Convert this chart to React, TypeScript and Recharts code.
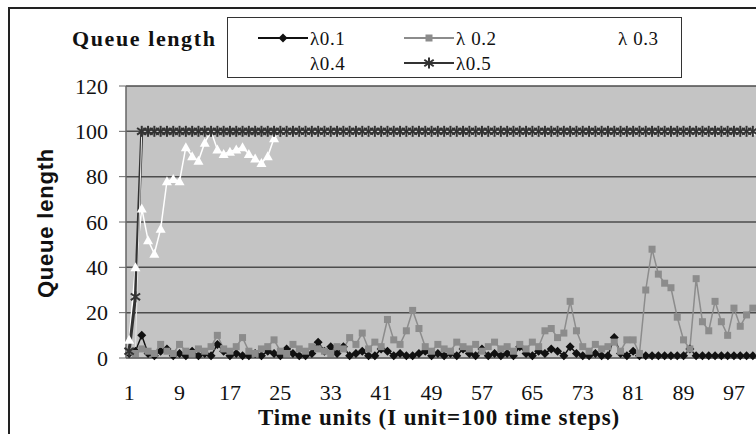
import { LineChart, Line, XAxis, YAxis, CartesianGrid } from "recharts";

// queue length per time unit (1 unit = 100 time steps)
const timeUnits = Array.from({ length: 100 }, (_, i) => i + 1);

const q01 = [
  2, 3, 10, 2, 1, 3, 4, 1, 2, 1,
  3, 1, 2, 1, 6, 3, 1, 2, 1, 1,
  2, 1, 3, 2, 1, 4, 2, 1, 1, 2,
  7, 3, 5, 2, 5, 1, 2, 3, 1, 1,
  4, 3, 1, 2, 1, 1, 2, 3, 1, 2,
  1, 2, 1, 4, 2, 1, 4, 1, 2, 1,
  2, 1, 5, 2, 1, 3, 2, 4, 3, 1,
  5, 2, 1, 1, 2, 1, 1, 9, 2, 1,
  3, 1, 1, 1, 1, 1, 1, 1, 1, 4,
  1, 1, 1, 1, 1, 1, 1, 1, 1, 1,
];

const q02 = [
  3, 2, 4, 3, 2, 6, 3, 2, 6, 3,
  2, 4, 3, 5, 10, 4, 3, 5, 9, 3,
  2, 4, 5, 8, 3, 2, 6, 4, 3, 5,
  4, 3, 2, 5, 4, 9, 6, 11, 4, 7,
  5, 17, 8, 6, 12, 21, 13, 5, 3, 6,
  4, 3, 7, 5, 4, 6, 3, 5, 7, 4,
  5, 3, 6, 4, 7, 5, 12, 13, 9, 11,
  25, 12, 5, 3, 6, 4, 5, 7, 3, 8,
  8, 2, 30, 48, 37, 33, 31, 18, 8, 4,
  35, 16, 12, 25, 16, 10, 22, 14, 19, 22,
];

const q03 = [
  1, 3, 100, 100, 100, 100, 100, 100, 100, 100,
  100, 100, 100, 100, 100, 100, 100, 100, 100, 100,
  100, 100, 100, 100, 100, 100, 100, 100, 100, 100,
  100, 100, 100, 100, 100, 100, 100, 100, 100, 100,
  100, 100, 100, 100, 100, 100, 100, 100, 100, 100,
  100, 100, 100, 100, 100, 100, 100, 100, 100, 100,
  100, 100, 100, 100, 100, 100, 100, 100, 100, 100,
  100, 100, 100, 100, 100, 100, 100, 100, 100, 100,
  100, 100, 100, 100, 100, 100, 100, 100, 100, 100,
  100, 100, 100, 100, 100, 100, 100, 100, 100, 100,
];

const q04 = [
  8, 40, 66, 52, 46, 57, 78, 79, 78, 93,
  89, 87, 95, 100, 92, 90, 91, 92, 93, 90,
  88, 86, 89, 97, 100, 100, 100, 100, 100, 100,
  100, 100, 100, 100, 100, 100, 100, 100, 100, 100,
  100, 100, 100, 100, 100, 100, 100, 100, 100, 100,
  100, 100, 100, 100, 100, 100, 100, 100, 100, 100,
  100, 100, 100, 100, 100, 100, 100, 100, 100, 100,
  100, 100, 100, 100, 100, 100, 100, 100, 100, 100,
  100, 100, 100, 100, 100, 100, 100, 100, 100, 100,
  100, 100, 100, 100, 100, 100, 100, 100, 100, 100,
];

const q05 = [
  3, 27, 100, 100, 100, 100, 100, 100, 100, 100,
  100, 100, 100, 100, 100, 100, 100, 100, 100, 100,
  100, 100, 100, 100, 100, 100, 100, 100, 100, 100,
  100, 100, 100, 100, 100, 100, 100, 100, 100, 100,
  100, 100, 100, 100, 100, 100, 100, 100, 100, 100,
  100, 100, 100, 100, 100, 100, 100, 100, 100, 100,
  100, 100, 100, 100, 100, 100, 100, 100, 100, 100,
  100, 100, 100, 100, 100, 100, 100, 100, 100, 100,
  100, 100, 100, 100, 100, 100, 100, 100, 100, 100,
  100, 100, 100, 100, 100, 100, 100, 100, 100, 100,
];

const xTicks = [1, 9, 17, 25, 33, 41, 49, 57, 65, 73, 81, 89, 97];
const yTicks = [0, 20, 40, 60, 80, 100, 120];

const data = timeUnits.map((t, i) => ({
  t,
  q01: q01[i],
  q02: q02[i],
  q03: q03[i],
  q04: q04[i],
  q05: q05[i],
}));

const SERIF = "Liberation Serif";
const SANS = "Liberation Sans";

// markers, roughly the Excel ones
const Diamond = ({ cx, cy, r = 4.5, color = "#111" }: any) => (
  <polygon
    points={`${cx},${cy - r} ${cx + r},${cy} ${cx},${cy + r} ${cx - r},${cy}`}
    fill={color}
  />
);
const Square = ({ cx, cy, r = 3.5, color = "#8c8c8c" }: any) => (
  <rect x={cx - r} y={cy - r} width={r * 2} height={r * 2} fill={color} />
);
const Triangle = ({ cx, cy, r = 5, color = "#fff" }: any) => (
  <polygon
    points={`${cx},${cy - r} ${cx + r},${cy + r * 0.8} ${cx - r},${cy + r * 0.8}`}
    fill={color}
  />
);
const Asterisk = ({ cx, cy, r = 5.5, color = "#333", w = 2 }: any) => (
  <g stroke={color} strokeWidth={w}>
    <line x1={cx} y1={cy - r} x2={cx} y2={cy + r} />
    <line x1={cx - r * 0.85} y1={cy - r * 0.6} x2={cx + r * 0.85} y2={cy + r * 0.6} />
    <line x1={cx - r * 0.85} y1={cy + r * 0.6} x2={cx + r * 0.85} y2={cy - r * 0.6} />
  </g>
);

const dotFn = (Shape: any, color: string) => (props: any) => {
  if (props.cx == null || props.cy == null) return <g key={`n-${props.index}`} />;
  return <Shape key={`m-${props.index}`} cx={props.cx} cy={props.cy} color={color} />;
};

const legendItems = [
  { name: "λ0.1", color: "#111", Shape: Diamond, col: 0, row: 0 },
  { name: "λ 0.2", color: "#8c8c8c", Shape: Square, col: 1, row: 0 },
  { name: "λ 0.3", color: "#fff", Shape: null, col: 2, row: 0 },
  { name: "λ0.4", color: "#fff", Shape: Triangle, col: 0, row: 1 },
  { name: "λ0.5", color: "#333", Shape: Asterisk, col: 1, row: 1 },
];

const colX = [30, 176, 338];

export default function App() {
  return (
    <div
      style={{
        position: "absolute",
        left: 0,
        top: 0,
        width: 756,
        height: 434,
        overflow: "hidden",
        background: "#fff",
      }}
    >
      {/* chart area frame */}
      <div
        style={{
          position: "absolute",
          left: 8,
          top: 7,
          width: 800,
          height: 500,
          borderLeft: "2px solid #222",
          borderTop: "2px solid #222",
        }}
      />

      <div style={{ position: "absolute", left: 0, top: 0 }}>
        <LineChart
          width={756}
          height={434}
          data={data}
          margin={{ top: 86, right: 0, bottom: 0, left: 0 }}
        >
          <CartesianGrid
            vertical={false}
            stroke="#4d4d4d"
            strokeWidth={1.5}
            fill="#c4c4c4"
            fillOpacity={1}
          />
          <XAxis
            dataKey="t"
            type="number"
            domain={[0.5, 100.5]}
            ticks={xTicks}
            interval={0}
            height={76}
            tickSize={0}
            tickMargin={26}
            axisLine={{ stroke: "#777" }}
            tick={{ fill: "#111", fontSize: 22, fontFamily: SERIF }}
          />
          <YAxis
            domain={[0, 120]}
            ticks={yTicks}
            width={126}
            tickSize={7}
            tickMargin={11}
            axisLine={{ stroke: "#666", strokeWidth: 1.5 }}
            tickLine={{ stroke: "#666" }}
            tick={{ fill: "#111", fontSize: 22, fontFamily: SERIF }}
          />
          <Line
            dataKey="q01"
            stroke="#111"
            strokeWidth={1.5}
            dot={dotFn(Diamond, "#111")}
            isAnimationActive={false}
          />
          <Line
            dataKey="q02"
            stroke="#8c8c8c"
            strokeWidth={1.5}
            dot={dotFn(Square, "#8c8c8c")}
            isAnimationActive={false}
          />
          <Line
            dataKey="q04"
            stroke="#fff"
            strokeWidth={1.5}
            dot={dotFn(Triangle, "#fff")}
            isAnimationActive={false}
          />
          <Line
            dataKey="q05"
            stroke="#333"
            strokeWidth={3}
            dot={dotFn(Asterisk, "#333")}
            isAnimationActive={false}
          />
          <Line
            dataKey="q03"
            stroke="#e8e8e8"
            strokeWidth={1}
            dot={false}
            isAnimationActive={false}
          />
        </LineChart>
      </div>

      {/* top-left caption */}
      <div
        style={{
          position: "absolute",
          left: 72,
          top: 28,
          lineHeight: 1,
          fontFamily: SERIF,
          fontWeight: "bold",
          fontSize: 22,
          letterSpacing: 1.6,
          color: "#111",
          whiteSpace: "nowrap",
        }}
      >
        Queue length
      </div>

      {/* legend */}
      <div
        style={{
          position: "absolute",
          left: 227,
          top: 17,
          width: 453,
          height: 59,
          border: "1.5px solid #333",
          background: "#fff",
        }}
      >
        {legendItems.map((it) => (
          <div
            key={it.name}
            style={{
              position: "absolute",
              left: colX[it.col],
              top: it.row === 0 ? 9 : 34,
              height: 22,
              display: "flex",
              alignItems: "center",
              whiteSpace: "nowrap",
            }}
          >
            <svg width={50} height={16}>
              <line x1={0} y1={8} x2={50} y2={8} stroke={it.color} strokeWidth={2} />
              {it.Shape ? <it.Shape cx={25} cy={8} color={it.color} /> : null}
            </svg>
            <span
              style={{
                fontFamily: SERIF,
                fontSize: 19,
                lineHeight: 1,
                color: "#111",
                marginLeft: 2,
                letterSpacing: 0.6,
              }}
            >
              {it.name}
            </span>
          </div>
        ))}
      </div>

      {/* y axis title */}
      <div
        style={{
          position: "absolute",
          left: 46,
          top: 223,
          lineHeight: 1,
          transform: "translate(-50%, -50%) rotate(-90deg)",
          fontFamily: SANS,
          fontWeight: "bold",
          fontSize: 22,
          letterSpacing: 0.8,
          color: "#111",
          whiteSpace: "nowrap",
        }}
      >
        Queue length
      </div>

      {/* x axis title */}
      <div
        style={{
          position: "absolute",
          left: 439,
          top: 417,
          lineHeight: 1,
          transform: "translate(-50%, -50%)",
          fontFamily: SERIF,
          fontWeight: "bold",
          fontSize: 23,
          letterSpacing: 0.9,
          color: "#111",
          whiteSpace: "nowrap",
        }}
      >
        Time units (I unit=100 time steps)
      </div>
    </div>
  );
}
